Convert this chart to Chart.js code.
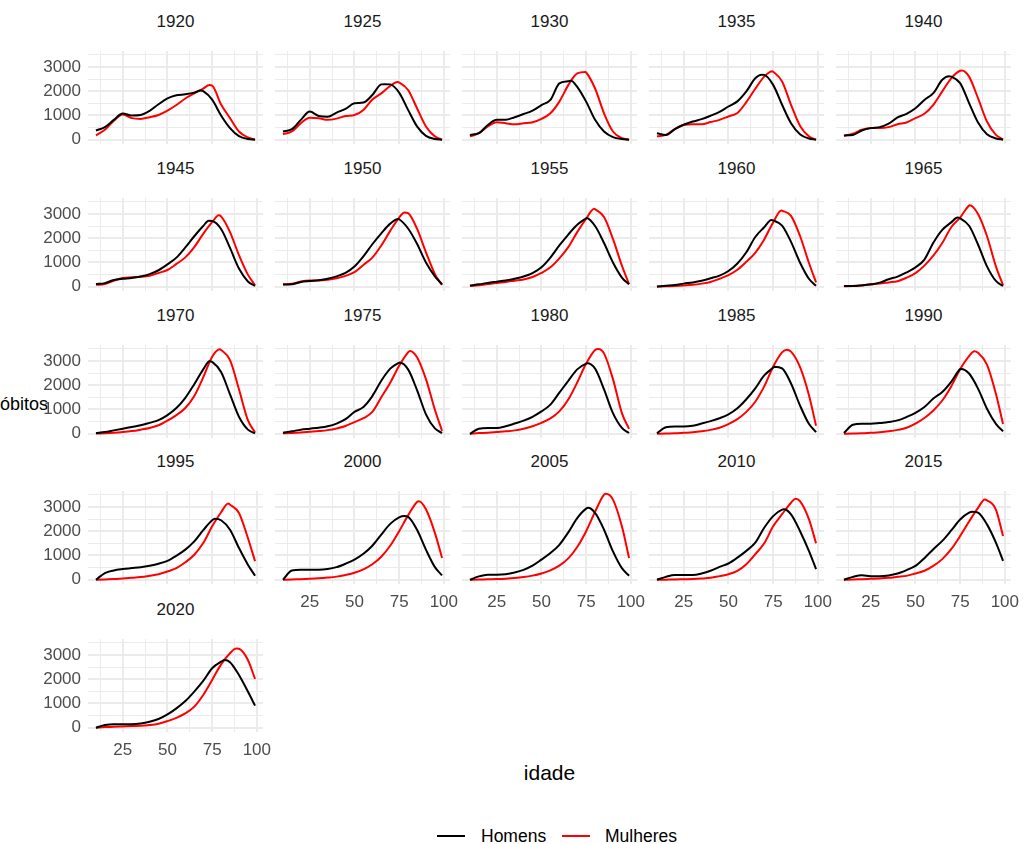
<!DOCTYPE html>
<html>
<head>
<meta charset="utf-8">
<script src="https://cdn.jsdelivr.net/npm/chart.js@4.4.1/dist/chart.umd.min.js"></script>
<style>
  body { margin: 0; background: #fff; font-family: 'Liberation Sans', Arial, sans-serif; }
  #wrap { position: relative; width: 1023px; height: 844px; overflow: hidden; }
  #wrap canvas { position: absolute; }
  .strip { position: absolute; width: 175px; height: 20px; line-height: 20px; text-align: center; font-size: 17px; color: #1a1a1a; }
  .axtitle { position: absolute; font-size: 21px; color: #000; line-height: 24px; white-space: nowrap; }
  .key { position: absolute; top: 835px; width: 28px; height: 2px; }
  .leglab { position: absolute; top: 825px; font-size: 17.5px; line-height: 22px; color: #000; }
</style>
</head>
<body>
<div id="wrap">
  <div class="axtitle" style="left:0;top:392px;font-size:18px;">óbitos</div>
  <div class="axtitle" style="left:0;width:1099px;text-align:center;top:761px;">idade</div>
  <div class="key" style="left:437px;background:#000"></div>
  <div class="leglab" style="left:481px;">Homens</div>
  <div class="key" style="left:562px;background:#ff0000"></div>
  <div class="leglab" style="left:605px;">Mulheres</div>
</div>
<script>
// anos de cada painel
const anos = [1920, 1925, 1930, 1935, 1940, 1945, 1950, 1955, 1960, 1965, 1970,
              1975, 1980, 1985, 1990, 1995, 2000, 2005, 2010, 2015, 2020];

// idades em que os valores foram lidos
const idades = [10, 15, 20, 25, 30, 35, 40, 45, 50, 55, 60, 65, 70, 75, 80, 85, 90, 95, 99];

const homens = [
  [380, 520, 820, 1080, 1000, 1020, 1190, 1460, 1700, 1830, 1870, 1940, 2000, 1650, 1000, 480, 150, 30, 5],
  [340, 440, 820, 1160, 980, 950, 1120, 1270, 1500, 1530, 1840, 2280, 2280, 1940, 1230, 550, 160, 30, 5],
  [200, 270, 610, 820, 820, 930, 1060, 1200, 1430, 1640, 2320, 2410, 2180, 1570, 820, 340, 110, 30, 5],
  [270, 200, 440, 620, 750, 850, 990, 1150, 1370, 1580, 1990, 2530, 2670, 2260, 1440, 680, 230, 50, 5],
  [180, 200, 380, 480, 520, 660, 920, 1070, 1300, 1640, 1920, 2470, 2600, 2330, 1510, 710, 230, 55, 5],
  [110, 150, 280, 330, 360, 420, 520, 680, 920, 1200, 1620, 2080, 2500, 2710, 2380, 1600, 750, 220, 40],
  [90, 100, 200, 240, 270, 330, 430, 570, 830, 1250, 1750, 2200, 2600, 2780, 2400, 1770, 1000, 430, 100],
  [50, 100, 160, 210, 260, 330, 420, 560, 800, 1200, 1700, 2150, 2550, 2820, 2500, 1800, 1000, 380, 100],
  [10, 40, 70, 130, 180, 250, 350, 460, 650, 960, 1420, 2050, 2450, 2730, 2520, 1850, 1000, 330, 40],
  [30, 30, 55, 100, 170, 310, 420, 590, 800, 1120, 1810, 2340, 2650, 2820, 2510, 1740, 840, 240, 30],
  [30, 70, 140, 210, 280, 350, 450, 560, 770, 1060, 1480, 2040, 2650, 2960, 2540, 1620, 700, 170, 20],
  [40, 100, 170, 210, 250, 310, 420, 600, 900, 1100, 1550, 2180, 2680, 2930, 2650, 1800, 800, 220, 30],
  [0, 210, 240, 240, 310, 420, 540, 700, 920, 1200, 1690, 2180, 2650, 2890, 2680, 1830, 850, 240, 30],
  [20, 270, 300, 300, 330, 420, 520, 640, 800, 1050, 1420, 1870, 2400, 2720, 2690, 2070, 1170, 410, 70],
  [30, 370, 410, 410, 440, 480, 550, 690, 860, 1100, 1450, 1720, 2140, 2660, 2480, 1860, 1030, 410, 100],
  [0, 275, 385, 440, 480, 520, 580, 660, 780, 990, 1240, 1580, 2040, 2450, 2450, 2060, 1310, 620, 165],
  [0, 385, 410, 410, 410, 440, 520, 660, 830, 1070, 1400, 1860, 2300, 2570, 2590, 2060, 1240, 520, 180],
  [0, 140, 210, 210, 230, 300, 410, 580, 830, 1100, 1440, 1950, 2540, 2930, 2750, 2060, 1170, 480, 165],
  [0, 120, 200, 200, 200, 260, 370, 530, 670, 910, 1190, 1530, 2140, 2620, 2890, 2690, 2010, 1190, 440],
  [0, 120, 190, 150, 150, 180, 260, 400, 570, 890, 1260, 1600, 2030, 2480, 2760, 2760, 2280, 1530, 780],
  [0, 110, 150, 150, 150, 180, 250, 360, 550, 800, 1100, 1490, 1930, 2450, 2720, 2700, 2170, 1490, 910]
];

const mulheres = [
  [180, 410, 780, 1040, 890, 860, 930, 1020, 1200, 1430, 1700, 1910, 2110, 2230, 1450, 890, 340, 95, 5],
  [230, 340, 680, 910, 890, 820, 870, 980, 1020, 1230, 1660, 1910, 2220, 2360, 2050, 1300, 550, 140, 5],
  [140, 270, 550, 720, 680, 640, 680, 720, 860, 1090, 1570, 2250, 2730, 2770, 2110, 1090, 340, 70, 5],
  [140, 200, 440, 620, 640, 640, 730, 820, 960, 1100, 1550, 2100, 2600, 2800, 2400, 1440, 580, 140, 5],
  [160, 250, 410, 480, 480, 520, 640, 710, 890, 1070, 1440, 1990, 2530, 2840, 2600, 1710, 750, 200, 15],
  [80, 110, 250, 360, 390, 410, 455, 570, 690, 940, 1210, 1630, 2180, 2660, 2900, 2250, 1300, 500, 60],
  [100, 120, 220, 260, 260, 290, 350, 450, 600, 900, 1200, 1700, 2300, 2850, 3030, 2390, 1420, 520, 70],
  [40, 60, 110, 160, 200, 250, 300, 400, 570, 800, 1170, 1630, 2250, 2800, 3190, 2870, 1970, 870, 110],
  [0, 20, 30, 50, 80, 130, 200, 330, 480, 700, 1030, 1400, 1950, 2650, 3130, 2920, 2100, 990, 180],
  [20, 30, 60, 90, 130, 180, 230, 370, 560, 870, 1280, 1800, 2450, 2850, 3350, 3000, 2090, 840, 70],
  [10, 20, 40, 70, 110, 170, 240, 350, 540, 770, 1060, 1550, 2320, 3170, 3450, 3030, 1830, 560, 50],
  [20, 30, 50, 80, 110, 150, 220, 320, 480, 640, 900, 1500, 2100, 2800, 3350, 3150, 2250, 990, 120],
  [0, 30, 40, 70, 100, 140, 210, 310, 450, 630, 920, 1410, 2110, 2890, 3450, 3310, 2250, 850, 200],
  [0, 10, 20, 40, 60, 100, 160, 250, 400, 600, 900, 1320, 1950, 2760, 3350, 3380, 2750, 1600, 330],
  [0, 10, 20, 40, 60, 100, 160, 250, 420, 650, 960, 1370, 1950, 2660, 3200, 3330, 2850, 1650, 400],
  [0, 15, 30, 55, 80, 110, 165, 230, 340, 480, 720, 1030, 1510, 2200, 2780, 3090, 2750, 1720, 760],
  [0, 15, 25, 40, 60, 90, 130, 200, 290, 430, 640, 950, 1400, 2000, 2650, 3200, 2900, 1930, 900],
  [0, 10, 20, 30, 45, 70, 110, 170, 260, 390, 580, 880, 1350, 2000, 2800, 3500, 3300, 2200, 900],
  [0, 5, 10, 20, 30, 50, 80, 150, 230, 370, 640, 1050, 1500, 2200, 2700, 3170, 3240, 2500, 1500],
  [0, 15, 25, 40, 55, 80, 120, 160, 260, 370, 570, 850, 1260, 1800, 2400, 2960, 3270, 2890, 1800],
  [0, 30, 40, 55, 70, 80, 110, 165, 275, 410, 590, 870, 1350, 1970, 2610, 3070, 3250, 2790, 2010]
];

// pico de cada curva (idade, valor)
const picoHomensIdade = [68.5, 67, 66.5, 68.6, 68.7, 73, 74.5, 75.2, 74, 73.5, 73.5, 75.2, 75.6, 75.8, 75.5, 76.5, 78, 76, 81, 82, 82];
const picoHomensValor = [2030, 2290, 2430, 2680, 2615, 2720, 2790, 2830, 2750, 2850, 2990, 2935, 2900, 2760, 2670, 2510, 2620, 2960, 2900, 2800, 2790];
const picoMulheresIdade = [73.5, 74, 74.5, 74.5, 76, 78.7, 78, 79.5, 79.6, 80.3, 79.2, 81, 81.8, 82.7, 83, 84, 86, 86, 87.6, 88.8, 88.5];
const picoMulheresValor = [2250, 2380, 2790, 2820, 2850, 2940, 3060, 3210, 3140, 3360, 3480, 3410, 3490, 3460, 3400, 3140, 3230, 3540, 3340, 3300, 3260];

const xTicks = [12.5, 25, 37.5, 50, 62.5, 75, 87.5, 100];
const yTicks = [0, 500, 1000, 1500, 2000, 2500, 3000, 3500];

// geometria dos paineis
const colLeft = [88, 275, 462, 649, 836];
const rowTop = [51, 198, 345, 491, 639];
const panelW = 175, panelH = 93;
const yAxisW = 88, xAxisH = 32, extraR = 12, extraB = 10;

function serie(valores, picoIdade, picoValor) {
  const pts = idades.map((a, i) => ({ x: a, y: valores[i] }));
  pts.push({ x: picoIdade, y: picoValor });
  pts.sort((a, b) => a.x - b.x);
  return pts;
}

function semPadding(s) {
  s.paddingLeft = 0; s.paddingRight = 0; s.paddingTop = 0; s.paddingBottom = 0;
}

const wrap = document.getElementById('wrap');
const fonte = { family: "'Liberation Sans', Arial, sans-serif", size: 17 };

anos.forEach((ano, k) => {
  const col = k % 5, row = Math.floor(k / 5);
  const showY = col === 0;
  const showX = (row === 3 && col > 0) || (row === 4);
  const yw = showY ? yAxisW : 0;
  const xh = showX ? xAxisH : 0;
  const w = yw + panelW + extraR;
  const h = panelH + xh + extraB;

  const strip = document.createElement('div');
  strip.className = 'strip';
  strip.style.left = colLeft[col] + 'px';
  strip.style.top = (rowTop[row] - 39) + 'px';
  strip.textContent = ano;
  wrap.appendChild(strip);

  const cv = document.createElement('canvas');
  cv.width = w; cv.height = h;
  cv.style.left = (colLeft[col] - yw) + 'px';
  cv.style.top = rowTop[row] + 'px';
  wrap.appendChild(cv);

  new Chart(cv.getContext('2d'), {
    type: 'line',
    data: {
      datasets: [
        {
          label: 'Homens',
          data: serie(homens[k], picoHomensIdade[k], picoHomensValor[k]),
          borderColor: '#000000',
          borderWidth: 2,
          pointRadius: 0,
          cubicInterpolationMode: 'monotone',
          fill: false
        },
        {
          label: 'Mulheres',
          data: serie(mulheres[k], picoMulheresIdade[k], picoMulheresValor[k]),
          borderColor: '#ff0000',
          borderWidth: 2,
          pointRadius: 0,
          cubicInterpolationMode: 'monotone',
          fill: false
        }
      ]
    },
    options: {
      responsive: false,
      animation: false,
      devicePixelRatio: 1,
      layout: { padding: { left: 0, top: 0, right: extraR, bottom: extraB } },
      plugins: { legend: { display: false }, tooltip: { enabled: false } },
      scales: {
        x: {
          type: 'linear',
          min: 5.55,
          max: 103.45,
          afterBuildTicks: s => { s.ticks = xTicks.map(v => ({ value: v })); },
          afterFit: s => { s.height = xh; semPadding(s); },
          border: { display: false },
          grid: {
            color: '#ebebeb',
            drawTicks: false,
            lineWidth: c => (c.tick && c.tick.value % 25 === 0) ? 2 : 1
          },
          ticks: {
            display: showX,
            autoSkip: false,
            maxRotation: 0,
            padding: 8,
            color: '#4d4d4d',
            font: fonte,
            callback: v => (v % 25 === 0 ? v : '')
          }
        },
        y: {
          min: -174,
          max: 3654,
          afterBuildTicks: s => { s.ticks = yTicks.map(v => ({ value: v })); },
          afterFit: s => { s.width = yw; semPadding(s); },
          border: { display: false },
          grid: {
            color: '#ebebeb',
            drawTicks: false,
            lineWidth: c => (c.tick && c.tick.value % 1000 === 0) ? 2 : 1
          },
          ticks: {
            display: showY,
            autoSkip: false,
            padding: 7,
            color: '#4d4d4d',
            font: fonte,
            callback: v => (v % 1000 === 0 ? v : '')
          }
        }
      }
    }
  });
});
</script>
</body>
</html>
